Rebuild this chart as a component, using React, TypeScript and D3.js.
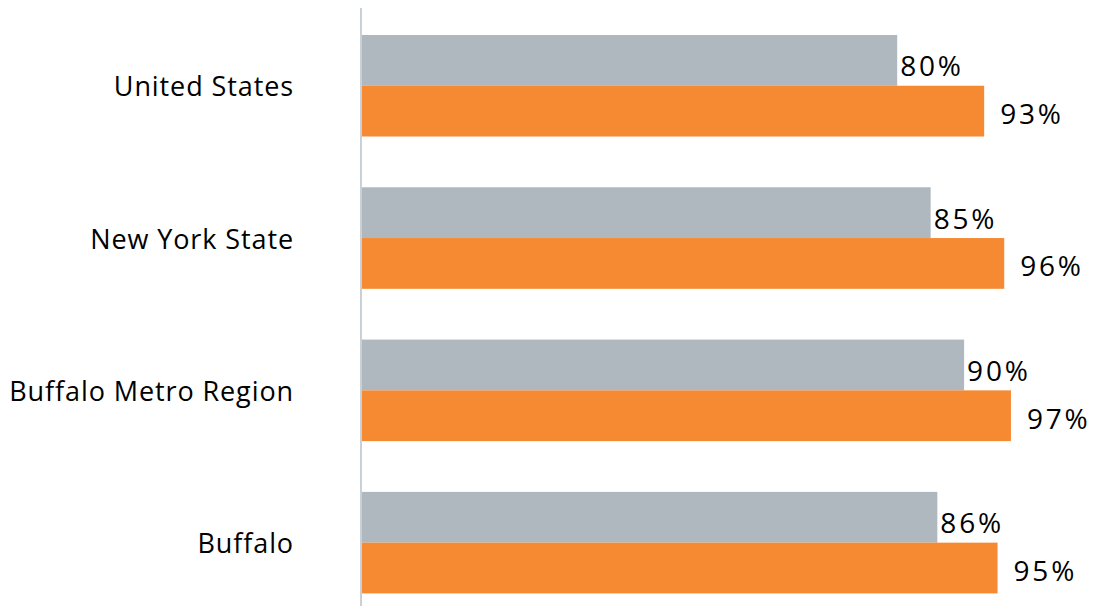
import React from "react";
import * as d3 from "d3";

const categories = ["United States", "New York State", "Buffalo Metro Region", "Buffalo"];
const grayValues = [80, 85, 90, 86];
const orangeValues = [93, 96, 97, 95];

const W = 1103;
const H = 616;
const FONT = "'Open Sans', Lato, sans-serif";

export default function App() {
  const x = d3.scaleLinear().domain([0, 100]).range([362, 1031]);
  const y = d3
    .scaleBand<string>()
    .domain(categories)
    .range([9.6, 9.6 + 4 * 152.3])
    .paddingInner(1 / 3)
    .paddingOuter(1 / 6);
  const bw = y.bandwidth();
  const half = bw / 2;

  return (
    <svg width={W} height={H} style={{ position: "absolute", left: 0, top: 0, background: "#fff" }}>
      {categories.map((c, i) => {
        const y0 = y(c)!;
        return (
          <g key={c}>
            <rect x={x(0)} y={y0} width={x(grayValues[i]) - x(0)} height={half} fill="#AFB8BE" />
            <rect x={x(0)} y={y0 + half} width={x(orangeValues[i]) - x(0)} height={half} fill="#F58A33" />
            <text
              x={x(grayValues[i]) + 3}
              y={y0 + half / 2 + 16}
              fontFamily={FONT}
              fontSize={28}
              letterSpacing={2.8}
              fill="#000"
            >
              {grayValues[i]}%
            </text>
            <text
              x={x(orangeValues[i]) + 16}
              y={y0 + half * 1.5 + 13}
              fontFamily={FONT}
              fontSize={28}
              letterSpacing={2.8}
              fill="#000"
            >
              {orangeValues[i]}%
            </text>
            <text
              x={294}
              y={y0 + half}
              textAnchor="end"
              dominantBaseline="central"
              fontFamily={FONT}
              fontSize={27}
              letterSpacing={0.9}
              fill="#000"
            >
              {c}
            </text>
          </g>
        );
      })}
      <line x1={361} x2={361} y1={8} y2={606} stroke="#C9D1D8" strokeWidth={2} />
    </svg>
  );
}
